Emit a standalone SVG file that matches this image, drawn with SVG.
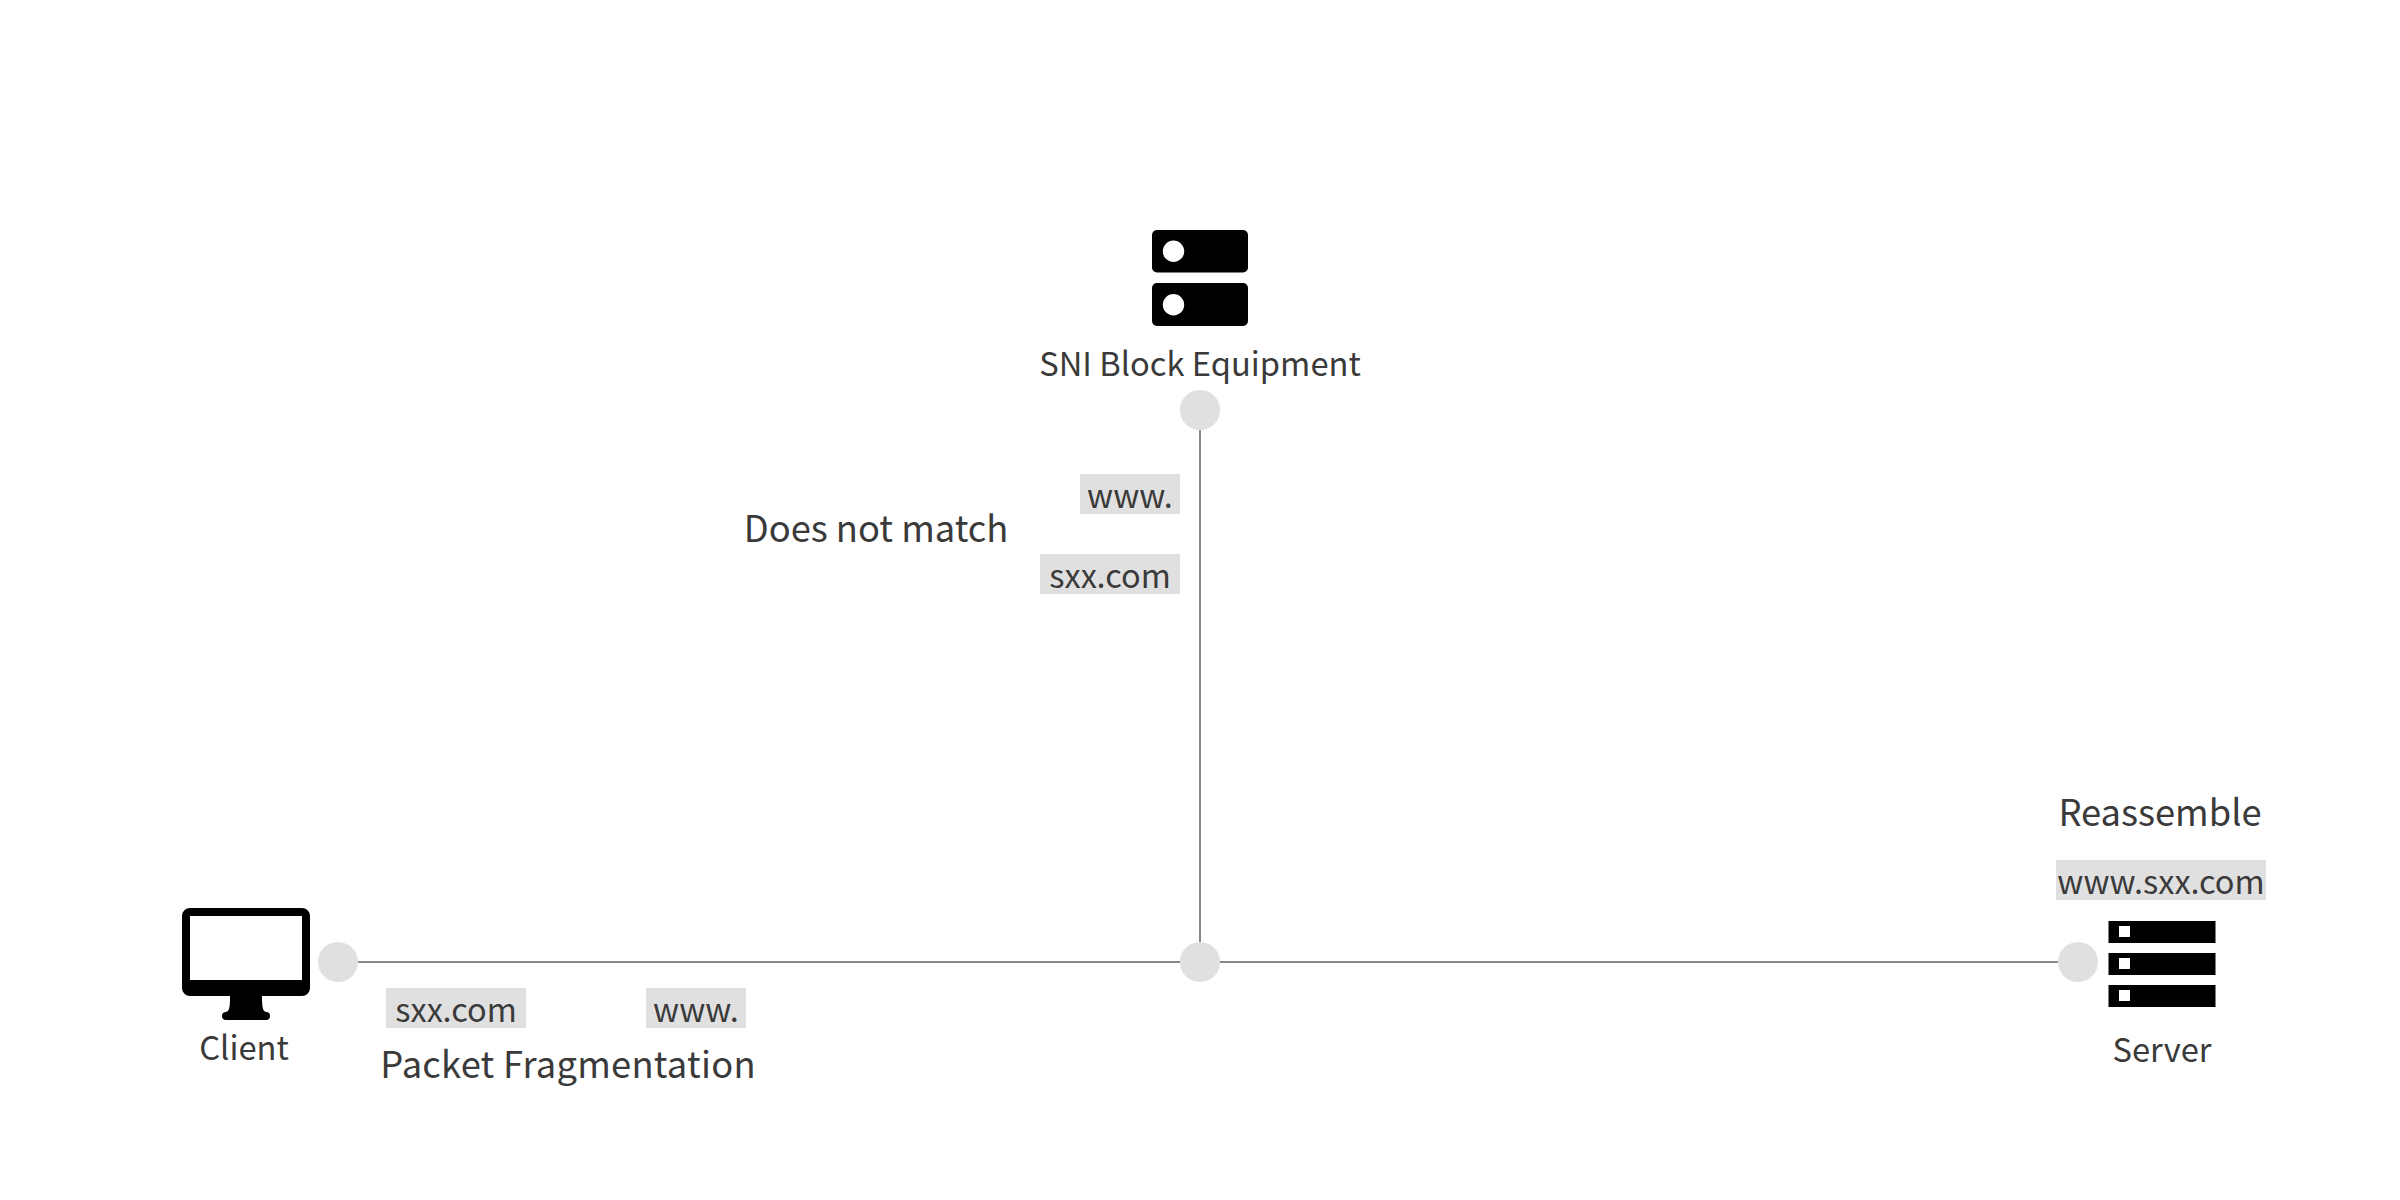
<svg xmlns="http://www.w3.org/2000/svg" width="2400" height="1200" viewBox="0 0 2400 1200">
<style>
text{font-family:"Noto Sans CJK SC","Source Sans Pro","Noto Sans",sans-serif;fill:#3a3a3a;text-anchor:middle}
.n{font-size:32.700px}.l{font-size:36.300px}.t{font-size:32.500px}
.tag{fill:#e0e0e0}.dot{fill:#e0e0e0}.k{fill:#000}.w{fill:#fff}
.c{stroke:#888;stroke-width:2;fill:none}
</style>
<rect width="2400" height="1200" fill="#fff"/>
<g id="connectors">
<line class="c" x1="358" y1="962" x2="2058" y2="962"/>
<line class="c" x1="1200" y1="430" x2="1200" y2="942"/>
</g>
<g id="client">
<path class="k" fill-rule="evenodd" d="M190 908H302a8 8 0 0 1 8 8V988a8 8 0 0 1-8 8H262V1000q0 12 4 12a4 4 0 0 1 0 8H226a4 4 0 0 1 0-8q4 0 4-12V996H190a8 8 0 0 1-8-8V916a8 8 0 0 1 8-8ZM190 916V980H302V916Z"/>
<text class="n" x="244" y="1060">Client</text>
</g>
<g id="sni-block-equipment">
<rect class="k" x="1152" y="230" width="96" height="42.500" rx="5"/>
<rect class="k" x="1152" y="283" width="96" height="43" rx="5"/>
<circle class="w" cx="1173.500" cy="251.300" r="10.700"/>
<circle class="w" cx="1173.500" cy="304.700" r="10.700"/>
<text class="n" x="1200" y="376">SNI Block Equipment</text>
</g>
<g id="server">
<rect class="k" x="2108.500" y="921" width="107" height="22"/>
<rect class="k" x="2108.500" y="953" width="107" height="22"/>
<rect class="k" x="2108.500" y="985" width="107" height="22"/>
<rect class="w" x="2119" y="926" width="11" height="11"/>
<rect class="w" x="2119" y="958" width="11" height="11"/>
<rect class="w" x="2119" y="990" width="11" height="11"/>
<text class="n" x="2162" y="1062">Server</text>
</g>
<g id="dot-client"><circle class="dot" cx="338" cy="962" r="20"/></g>
<g id="dot-equipment"><circle class="dot" cx="1200" cy="410" r="20"/></g>
<g id="dot-junction"><circle class="dot" cx="1200" cy="962" r="20"/></g>
<g id="dot-server"><circle class="dot" cx="2078" cy="962" r="20"/></g>
<g id="tag-sxx-bottom"><rect class="tag" x="386" y="988" width="140" height="40"/><text class="t" x="456" y="1022">sxx.com</text></g>
<g id="tag-www-bottom"><rect class="tag" x="646" y="988" width="100" height="40"/><text class="t" x="696" y="1022">www.</text></g>
<g id="tag-www-top"><rect class="tag" x="1080" y="474" width="100" height="40"/><text class="t" x="1130" y="508">www.</text></g>
<g id="tag-sxx-top"><rect class="tag" x="1040" y="554" width="140" height="40"/><text class="t" x="1110" y="588">sxx.com</text></g>
<g id="tag-full"><rect class="tag" x="2056" y="860" width="210" height="40"/><text class="t" x="2161" y="894">www.sxx.com</text></g>
<text class="l" x="876" y="542">Does not match</text>
<text class="l" x="568" y="1078" style="letter-spacing:.25px">Packet Fragmentation</text>
<text class="l" x="2160" y="826">Reassemble</text>
</svg>
